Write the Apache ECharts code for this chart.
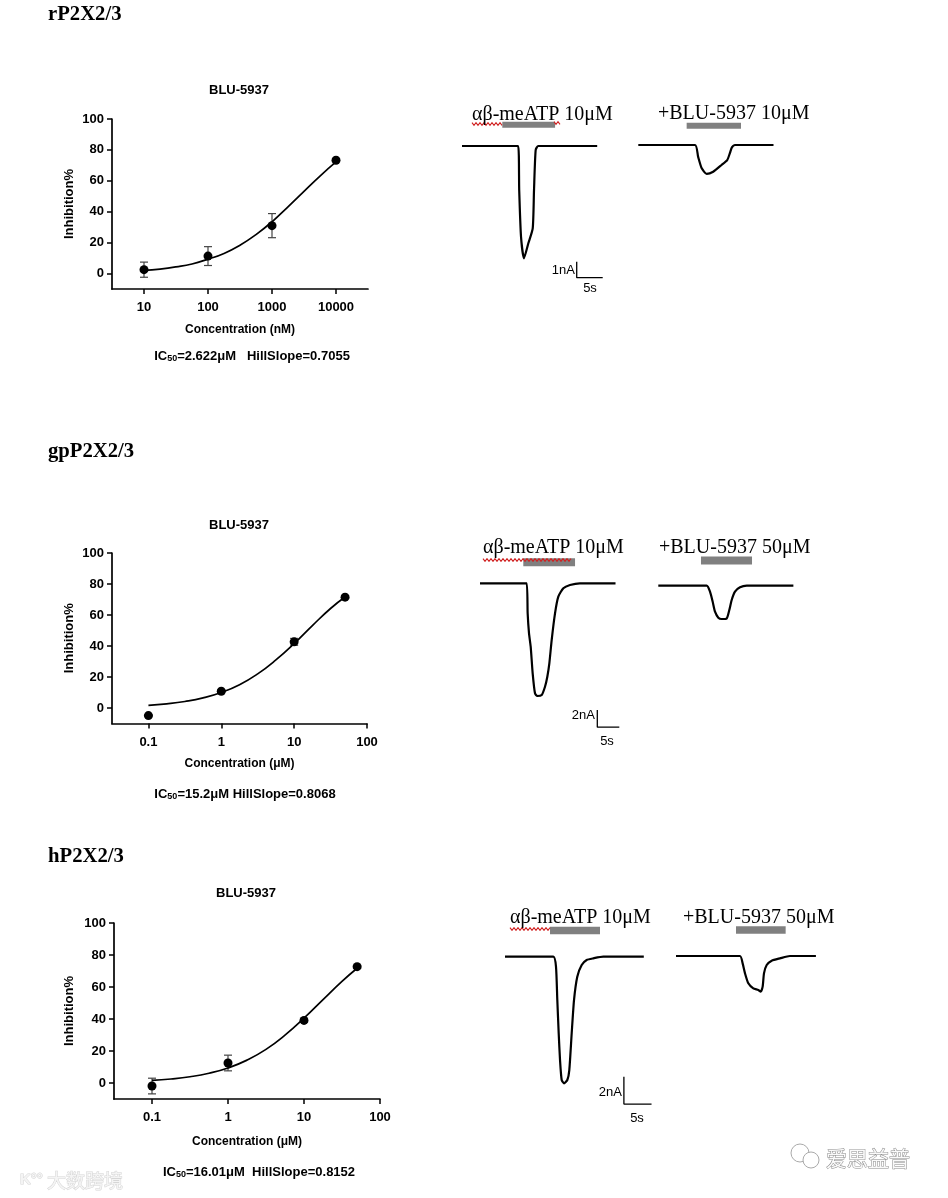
<!DOCTYPE html>
<html><head><meta charset="utf-8">
<script src="https://cdn.jsdelivr.net/npm/echarts@6/dist/echarts.min.js"></script>
<style>html,body{margin:0;padding:0;background:#fff}#c{width:948px;height:1198px}</style>
</head><body><div id="c"></div>
<script>
// ---------- Dose-response data ----------
const rTicks = [10, 100, 1000, 10000];
const rTickLabels = ['10', '100', '1000', '10000'];
const rConc = [10, 100, 1000, 10000];
const rMean = [2.5, 11.3, 31, 73.3];
const rSem = [4.9, 6.1, 7.8, 0.8];
const rFitConc = [10, 17.8, 31.6, 56.2, 100, 178, 316, 562, 1000, 1778, 3162, 5623, 10000];
const rFitVal = [2.0, 2.9, 4.3, 6.2, 9.3, 13.0, 18.3, 25.2, 33.5, 43.2, 53.2, 63.1, 72.2];

const gpTicks = [0.1, 1, 10, 100];
const gpTickLabels = ['0.1', '1', '10', '100'];
const gpConc = [0.1, 1, 10, 50];
const gpMean = [-4.9, 10.8, 42.7, 71.5];
const gpSem = [0.5, 0.8, 2.2, 0.8];
const gpFitConc = [0.1, 0.178, 0.316, 0.562, 1, 1.78, 3.16, 5.62, 10, 17.8, 31.6, 50];
const gpFitVal = [1.7, 2.7, 4.2, 6.5, 10.0, 15.0, 22.0, 31.0, 41.6, 53.2, 64.2, 71.6];

const hTicks = [0.1, 1, 10, 100];
const hTickLabels = ['0.1', '1', '10', '100'];
const hConc = [0.1, 1, 10, 50];
const hMean = [-1.9, 12.5, 39.1, 72.7];
const hSem = [4.9, 4.9, 1.0, 0.8];
const hFitConc = [0.1, 0.178, 0.316, 0.562, 1, 1.78, 3.16, 5.62, 10, 17.8, 31.6, 50];
const hFitVal = [1.6, 2.5, 3.9, 6.1, 9.4, 14.3, 21.0, 29.9, 40.5, 52.1, 63.5, 71.7];

const yTicks = [0, 20, 40, 60, 80, 100];

// ---------- Current traces (time s, current nA) ----------
const r1CtrlT = [0, 10.8, 11.0, 11.35, 11.92, 12.76, 13.6, 13.85, 14.17, 14.67, 26];
const r1CtrlI = [0, 0, -2.75, -5.67, -7.02, -6.08, -5.15, -2.75, -0.25, 0, 0];
const r1DrugT = [0, 10.9, 11.5, 12.2, 13.15, 14.4, 16.0, 17.1, 17.6, 18.0, 18.6, 26];
const r1DrugI = [0, 0, -0.73, -1.46, -1.81, -1.67, -1.25, -0.94, -0.52, -0.15, 0, 0];

const r2CtrlT = [0, 10.6, 10.83, 11.14, 11.52, 11.97, 12.5, 13.03, 14.02, 14.77, 15.3, 15.76, 16.29, 17.05, 17.8, 18.94, 20.45, 22.7, 30.8];
const r2CtrlI = [0, 0, -3.46, -5.77, -7.31, -10.38, -12.69, -13.0, -12.88, -11.93, -10.77, -9.23, -6.54, -3.46, -1.54, -0.58, -0.2, 0, 0];
const r2DrugT = [0, 11.0, 11.75, 12.36, 12.89, 13.64, 14.4, 15.55, 16.14, 16.68, 17.43, 18.57, 20.1, 30.7];
const r2DrugI = [0, 0, -0.69, -1.85, -3.0, -3.69, -3.84, -3.77, -2.8, -1.65, -0.69, -0.19, 0, 0];

const r3CtrlT = [0, 8.74, 9.22, 9.46, 9.71, 9.95, 10.25, 10.67, 11.27, 11.63, 12.06, 12.48, 13.07, 13.87, 14.77, 15.97, 17.78, 25.1];
const r3CtrlI = [0, 0, -0.73, -3.17, -5.6, -7.56, -9.02, -9.26, -9.02, -8.29, -5.6, -3.17, -1.46, -0.61, -0.24, -0.12, 0, 0];
const r3DrugT = [0, 11.57, 12.05, 12.48, 13.08, 13.98, 14.88, 15.31, 15.67, 15.91, 16.4, 17.3, 18.8, 20.6, 25.3];
const r3DrugI = [0, 0, -0.54, -1.27, -2.0, -2.37, -2.49, -2.61, -2.24, -1.27, -0.66, -0.34, -0.17, 0, 0];

// drug application bars [start s, end s, level nA]
const r1CtrlBar = [7.75, 17.9, 1.33];
const r1DrugBar = [9.3, 19.75, 1.2];
const r2CtrlBar = [9.84, 21.6, 2.43];
const r2DrugBar = [9.7, 21.3, 2.9];
const r3CtrlBar = [8.14, 17.18, 1.92];
const r3DrugBar = [10.85, 19.83, 1.9];

// scale bars [t, current top, nA length, s length]
const r1Scale = [22.06, -7.23, 1, 5];
const r2Scale = [26.66, -14.6, 2, 5];
const r3Scale = [21.5, -8.78, 2, 5];

// ---------- Layout ----------
const SANS = 'Liberation Sans, Arial, sans-serif';
const SERIF = 'Liberation Serif, Times New Roman, serif';

const dosePanels = [
  {conc: rConc, mean: rMean, sem: rSem, fitC: rFitConc, fitV: rFitVal, ticks: rTicks, labels: rTickLabels,
   xmin: 0.5, xmax: 4.5, unit: 'Concentration (nM)', grid: {left: 112, top: 119, width: 256, height: 170}, xGap: 35, yGap: 36},
  {conc: gpConc, mean: gpMean, sem: gpSem, fitC: gpFitConc, fitV: gpFitVal, ticks: gpTicks, labels: gpTickLabels,
   xmin: -1.5, xmax: 2, unit: 'Concentration (μM)', grid: {left: 112, top: 553, width: 255, height: 170.5}, xGap: 34, yGap: 36},
  {conc: hConc, mean: hMean, sem: hSem, fitC: hFitConc, fitV: hFitVal, ticks: hTicks, labels: hTickLabels,
   xmin: -1.5, xmax: 2, unit: 'Concentration (μM)', grid: {left: 114, top: 923, width: 266, height: 176}, xGap: 37, yGap: 38}
];

const traceRows = [
  {pxS: 5.2, pxA: 16, xMax: 28, yMax: 2, yMin: -9,
   ctrl: {x: 462, base: 146, T: r1CtrlT, I: r1CtrlI, bar: r1CtrlBar}, drug: {x: 638.3, base: 145, T: r1DrugT, I: r1DrugI, bar: r1DrugBar},
   barW: 6, scale: r1Scale},
  {pxS: 4.4, pxA: 8.67, xMax: 32, yMax: 3.8, yMin: -17.5,
   ctrl: {x: 480, base: 583.3, T: r2CtrlT, I: r2CtrlI, bar: r2CtrlBar}, drug: {x: 658.3, base: 585.7, T: r2DrugT, I: r2DrugI, bar: r2DrugBar},
   barW: 8, scale: r2Scale},
  {pxS: 5.53, pxA: 13.67, xMax: 27, yMax: 3, yMin: -11.5,
   ctrl: {x: 505, base: 956.7, T: r3CtrlT, I: r3CtrlI, bar: r3CtrlBar}, drug: {x: 676, base: 956, T: r3DrugT, I: r3DrugI, bar: r3DrugBar},
   barW: 7.5, scale: r3Scale}
];

const option = {animation: false, backgroundColor: '#fff', grid: [], xAxis: [], yAxis: [], series: [], graphic: []};

dosePanels.forEach((p, k) => {
  const tv = p.ticks.map(Math.log10);
  option.grid.push(Object.assign({}, p.grid));
  option.xAxis.push({
    type: 'value', gridIndex: k, min: p.xmin, max: p.xmax,
    name: p.unit, nameLocation: 'middle', nameGap: p.xGap,
    nameTextStyle: {fontFamily: SANS, fontWeight: 'bold', fontSize: 12, color: '#000'},
    axisLine: {show: true, onZero: false, lineStyle: {color: '#000', width: 1.7}},
    axisTick: {show: true, length: 5, customValues: tv, lineStyle: {color: '#000', width: 1.5}},
    axisLabel: {show: true, customValues: tv, margin: 12, fontFamily: SANS, fontWeight: 'bold', fontSize: 13, color: '#000',
      formatter: v => { const i = tv.findIndex(t => Math.abs(t - v) < 1e-6); return i >= 0 ? p.labels[i] : ''; }},
    splitLine: {show: false}
  });
  option.yAxis.push({
    type: 'value', gridIndex: k, min: -10, max: 100,
    name: 'Inhibition%', nameLocation: 'middle', nameGap: p.yGap, nameRotate: 90,
    nameTextStyle: {fontFamily: SANS, fontWeight: 'bold', fontSize: 13, color: '#000'},
    axisLine: {show: true, onZero: false, lineStyle: {color: '#000', width: 1.7}},
    axisTick: {show: true, length: 5, customValues: yTicks, lineStyle: {color: '#000', width: 1.5}},
    axisLabel: {show: true, customValues: yTicks, margin: 8, fontFamily: SANS, fontWeight: 'bold', fontSize: 13, color: '#000'},
    splitLine: {show: false}
  });
  option.series.push({
    type: 'line', xAxisIndex: k, yAxisIndex: k, smooth: true, symbol: 'none', silent: true,
    lineStyle: {color: '#000', width: 1.7},
    data: p.fitC.map((c, i) => [Math.log10(c), p.fitV[i]])
  });
  option.series.push({
    type: 'custom', xAxisIndex: k, yAxisIndex: k, silent: true,
    data: p.conc.map((c, i) => [Math.log10(c), p.mean[i] - p.sem[i], p.mean[i] + p.sem[i]]),
    renderItem: (params, api) => {
      const a = api.coord([api.value(0), api.value(2)]);
      const b = api.coord([api.value(0), api.value(1)]);
      const w = 4, st = {stroke: '#444', lineWidth: 1.2};
      return {type: 'group', children: [
        {type: 'line', shape: {x1: a[0], y1: a[1], x2: b[0], y2: b[1]}, style: st},
        {type: 'line', shape: {x1: a[0] - w, y1: a[1], x2: a[0] + w, y2: a[1]}, style: st},
        {type: 'line', shape: {x1: b[0] - w, y1: b[1], x2: b[0] + w, y2: b[1]}, style: st}
      ]};
    }
  });
  option.series.push({
    type: 'scatter', xAxisIndex: k, yAxisIndex: k, symbol: 'circle', symbolSize: 9, silent: true,
    itemStyle: {color: '#000', opacity: 1}, z: 5,
    data: p.conc.map((c, i) => [Math.log10(c), p.mean[i]])
  });
});

let gi = dosePanels.length;
traceRows.forEach(row => {
  ['ctrl', 'drug'].forEach(key => {
    const tr = row[key];
    option.grid.push({left: tr.x, top: tr.base - row.yMax * row.pxA, width: row.xMax * row.pxS, height: (row.yMax - row.yMin) * row.pxA});
    option.xAxis.push({type: 'value', gridIndex: gi, min: 0, max: row.xMax, show: false});
    option.yAxis.push({type: 'value', gridIndex: gi, min: row.yMin, max: row.yMax, show: false});
    option.series.push({
      type: 'line', xAxisIndex: gi, yAxisIndex: gi, symbol: 'none', smooth: 0.2, silent: true,
      lineStyle: {color: '#000', width: 2.2},
      data: tr.T.map((t, i) => [t, tr.I[i]])
    });
    option.series.push({
      type: 'line', xAxisIndex: gi, yAxisIndex: gi, symbol: 'none', silent: true, z: 4,
      lineStyle: {color: '#808080', width: row.barW, cap: 'butt'},
      data: [[tr.bar[0], tr.bar[2]], [tr.bar[1], tr.bar[2]]]
    });
    if (key === 'ctrl') {
      const s = row.scale;
      option.series.push({
        type: 'line', xAxisIndex: gi, yAxisIndex: gi, symbol: 'none', silent: true,
        lineStyle: {color: '#000', width: 1.3},
        data: [[s[0], s[1]], [s[0], s[1] - s[2]], [s[0] + s[3], s[1] - s[2]]]
      });
    }
    gi++;
  });
});

// ---------- Text ----------
const G = option.graphic;
function txt(x, y, text, font, align, extra) {
  G.push({type: 'text', x: x, y: y, z: 100, style: Object.assign({text: text, font: font, fill: '#000', align: align || 'left', verticalAlign: 'middle'}, extra || {})});
}
const headFont = 'bold 20.7px ' + SERIF;
txt(48, 15, 'rP2X2/3', headFont);
txt(48, 452, 'gpP2X2/3', headFont);
txt(48, 857, 'hP2X2/3', headFont);

const tFont = 'bold 13px ' + SANS;
txt(239, 90, 'BLU-5937', tFont, 'center');
txt(239, 525, 'BLU-5937', tFont, 'center');
txt(246, 893, 'BLU-5937', tFont, 'center');

function ic(x, y, rest) {
  G.push({type: 'text', x: x, y: y, z: 100, style: {
    text: '{a|IC}{s|50}{a|' + rest + '}', align: 'center', verticalAlign: 'middle',
    rich: {a: {font: 'bold 13px ' + SANS, fill: '#000'}, s: {font: 'bold 9px ' + SANS, fill: '#000', padding: [6, 0, 0, 0]}}
  }});
}
ic(252, 356, '=2.622μM   HillSlope=0.7055');
ic(245, 794, '=15.2μM HillSlope=0.8068');
ic(259, 1172, '=16.01μM  HillSlope=0.8152');

const lFont = '20px ' + SERIF;
txt(472, 115, 'αβ-meATP 10μM', lFont);
txt(658, 114, '+BLU-5937 10μM', lFont);
txt(483, 548, 'αβ-meATP 10μM', lFont);
txt(659, 548, '+BLU-5937 50μM', lFont);
txt(510, 918, 'αβ-meATP 10μM', lFont);
txt(683, 918, '+BLU-5937 50μM', lFont);

const sFont = '13px ' + SANS;
txt(575, 270, '1nA', sFont, 'right');
txt(590, 288, '5s', sFont, 'center');
txt(595, 715, '2nA', sFont, 'right');
txt(607, 741, '5s', sFont, 'center');
txt(622, 1092, '2nA', sFont, 'right');
txt(637, 1118, '5s', sFont, 'center');

// spell-check squiggles
function squiggle(x0, x1, y) {
  const pts = [];
  let up = true;
  for (let x = x0; x <= x1; x += 2) { pts.push([x, y + (up ? -1.3 : 1.3)]); up = !up; }
  G.push({type: 'polyline', z: 50, shape: {points: pts}, style: {stroke: '#d02020', lineWidth: 1.1, fill: null}});
}
squiggle(472, 502, 124);
squiggle(554, 560, 123);
squiggle(483, 571, 560);
squiggle(510, 550, 929);

// watermarks
G.push({type: 'circle', z: 90, shape: {cx: 800, cy: 1153, r: 9}, style: {stroke: '#aaa', fill: '#fff', lineWidth: 1}});
G.push({type: 'circle', z: 91, shape: {cx: 811, cy: 1160, r: 8}, style: {stroke: '#aaa', fill: '#fff', lineWidth: 1}});
txt(826, 1158, '爱思益普', '21px Noto Sans CJK SC', 'left', {fill: '#fafafa', stroke: '#8a8a8a', lineWidth: 1});
txt(20, 1180, 'K°°', 'bold 15px ' + SANS, 'left', {fill: '#f4f4f4', stroke: '#d6d6d6', lineWidth: 1});
txt(47, 1181, '大数跨境', '19px Noto Sans CJK SC', 'left', {fill: '#f4f4f4', stroke: '#d6d6d6', lineWidth: 1});

const chart = echarts.init(document.getElementById('c'), null, {renderer: 'canvas'});
chart.setOption(option);
</script></body></html>
